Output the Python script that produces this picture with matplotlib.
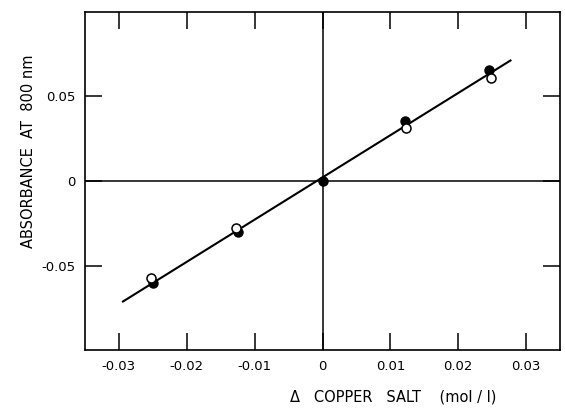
import matplotlib
matplotlib.use("Agg")
import numpy as np
from matplotlib import pyplot as plt

# data
x_filled = [-0.0250, -0.0125, 0.0, 0.0121, 0.0245]
y_filled = [-0.0603, -0.0302, 0.0, 0.0355, 0.0657]
x_open = [-0.0252, -0.0128, 0.0123, 0.0248]
y_open = [-0.0573, -0.0276, 0.0314, 0.0611]
x_fit = [-0.0294, 0.0277]
y_fit = [-0.0713, 0.0713]

x_ticks = [-0.03, -0.02, -0.01, 0, 0.01, 0.02, 0.03]
x_ticklabels = ['-0.03', '-0.02', '-0.01', '0', '0.01', '0.02', '0.03']
y_ticks = [-0.05, 0, 0.05]
y_ticklabels = ['-0.05', '0', '0.05']

plt.rcParams['font.family'] = ['DejaVu Sans']

fig = plt.figure(figsize=(5.65, 4.13), dpi=100)
ax = fig.add_axes([0.1504, 0.1525, 0.8408, 0.8185])

ax.axhline(0, color='black', linewidth=1.1, zorder=1)
ax.axvline(0, color='black', linewidth=1.1, zorder=1)
ax.plot(x_fit, y_fit, '-', color='black', linewidth=1.5, zorder=2)
ax.plot(x_filled, y_filled, 'o', color='black', markersize=6.5, zorder=3)
ax.plot(x_open, y_open, 'o', markerfacecolor='white', markeredgecolor='black',
        markeredgewidth=1.1, markersize=6.5, zorder=4)

ax.set_xlim(-0.035, 0.035)
ax.set_ylim(-0.1, 0.1)
ax.set_xticks(x_ticks)
ax.set_xticklabels(x_ticklabels)
ax.set_yticks(y_ticks)
ax.set_yticklabels(y_ticklabels)
ax.tick_params(direction='in', length=12, width=1.1, top=True, right=True,
               labelsize=9.5, pad=7)
for sp in ax.spines.values():
    sp.set_linewidth(1.2)

fig.text(0.05, 0.634, 'ABSORBANCE  AT  800 nm', rotation=90, fontsize=10.5,
         ha='center', va='center')
fig.text(0.696, 0.038, '\u0394   COPPER   SALT    (mol / l)', fontsize=10.5,
         ha='center', va='center')

fig.savefig('out.png', dpi=100)
